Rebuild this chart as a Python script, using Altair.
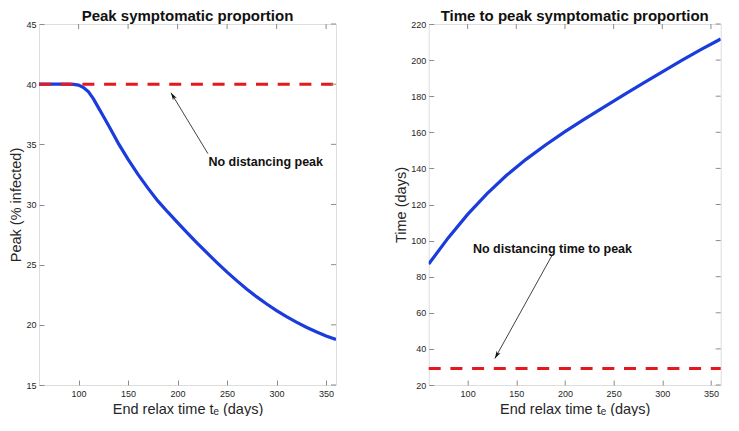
import math
import altair as alt
import pandas as pd

# ---------------- data ----------------
te_left = [60, 70, 80, 90, 95, 100, 105, 110, 115, 120, 125, 130, 135, 140, 150, 160,
           170, 180, 190, 200, 210, 220, 230, 240, 250, 260, 270, 280, 290, 300, 310,
           320, 330, 340, 350, 360]
peak_left = [40.0, 40.0, 40.0, 40.0, 39.98, 39.92, 39.72, 39.36, 38.78, 38.05, 37.33,
             36.6, 35.85, 35.1, 33.75, 32.5, 31.36, 30.3, 29.38, 28.5, 27.62, 26.77,
             25.95, 25.15, 24.38, 23.65, 22.96, 22.32, 21.73, 21.18, 20.68, 20.22, 19.8,
             19.42, 19.08, 18.78]

te_right = [60, 80, 100, 120, 140, 160, 180, 200, 220, 240, 260, 280, 300, 320, 340, 360]
time_right = [87.0, 101.5, 114.5, 126.0, 136.2, 145.0, 153.0, 160.4, 167.3, 174.0,
              180.6, 187.1, 193.5, 199.8, 205.9, 211.7]

ref_te = [60, 360]
ref_peak = [40, 40]
ref_time = [29.2, 29.2]

x_domain = [60, 360]
x_ticks = [100, 150, 200, 250, 300, 350]
peak_domain = [15, 45]
peak_ticks = [15, 20, 25, 30, 35, 40, 45]
time_domain = [20, 220]
time_ticks = [20, 40, 60, 80, 100, 120, 140, 160, 180, 200, 220]

left_title = "Peak symptomatic proportion"
right_title = "Time to peak symptomatic proportion"
left_ytitle = "Peak (% infected)"
right_ytitle = "Time (days)"
x_title = "End relax time tₑ (days)"

left_note = "No distancing peak"
left_note_pos = [289.0, 33.5]
left_arrow = [230.6, 34.23, 193.3, 39.29]   # tail te, tail val, head te, head val
right_note = "No distancing time to peak"
right_note_pos = [187.2, 95.2]
right_arrow = [186.9, 92.0, 128.0, 34.7]

# ---------------- style ----------------
FONT = "Liberation Sans"
BLUE = "#1a3cdc"
RED = "#e3191e"
GRAY = "#8c8c8c"
TXT = "#262626"
H = 361
W_LEFT = 297
W_RIGHT = 292
TICK = 5
ARROW_PATH = "M0,0 L-0.55,1.9 L0,1.4 L0.55,1.9 Z"


def panel(te, vals, ref_vals, ydom, yticks, ytitle, title, note, note_pos, arrow, width):
    xs = alt.Scale(domain=x_domain, nice=False, zero=False)
    ys = alt.Scale(domain=ydom, nice=False, zero=False)

    main_x = alt.Axis(orient="bottom", values=x_ticks, title=x_title, ticks=False, tickSize=0,
                      domain=False, grid=False, labelFontSize=9, labelPadding=4,
                      labelColor=TXT, titleColor=TXT, titleFontSize=14.5,
                      titleFontWeight="normal", titlePadding=4, labelFont=FONT, titleFont=FONT)
    main_y = alt.Axis(orient="left", values=yticks, title=ytitle, ticks=False, tickSize=0,
                      domain=False, grid=False, labelFontSize=9, labelPadding=3,
                      labelColor=TXT, titleColor=TXT, titleFontSize=14.5,
                      titleFontWeight="normal", titlePadding=2, labelFont=FONT, titleFont=FONT)

    # inward tick marks (bottom / left) drawn by axes pulled inside the box
    def tick_axis(orient, values):
        return alt.Axis(orient=orient, values=values, offset=-TICK, ticks=True, tickSize=TICK,
                        tickColor=GRAY, tickWidth=1, labels=False, domain=False, grid=False,
                        title=None)

    curve = pd.DataFrame({"te": te, "v": vals})
    refdf = pd.DataFrame({"te": ref_te, "v": ref_vals})
    arrdf = pd.DataFrame({"te": [arrow[0]], "v": [arrow[1]], "te2": [arrow[2]], "v2": [arrow[3]]})
    headdf = pd.DataFrame({"te": [arrow[2]], "v": [arrow[3]]})
    notedf = pd.DataFrame({"te": [note_pos[0]], "v": [note_pos[1]], "label": [note]})
    titledf = pd.DataFrame({"label": [title]})
    xtickdf = pd.DataFrame({"te": x_ticks})
    ytickdf = pd.DataFrame({"v": yticks})

    xpx = width / (x_domain[1] - x_domain[0])
    ypx = H / (ydom[1] - ydom[0])
    ang = math.degrees(math.atan2((arrow[2] - arrow[0]) * xpx, (arrow[3] - arrow[1]) * ypx)) % 360

    line = alt.Chart(curve).mark_line(color=BLUE, strokeWidth=3.2, clip=True).encode(
        x=alt.X("te:Q", scale=xs, axis=main_x),
        y=alt.Y("v:Q", scale=ys, axis=main_y),
    )
    ref = alt.Chart(refdf).mark_line(color=RED, strokeWidth=3, strokeDash=[12, 9.7]).encode(
        x=alt.X("te:Q", scale=xs, axis=tick_axis("bottom", x_ticks)),
        y=alt.Y("v:Q", scale=ys, axis=tick_axis("left", yticks)),
    )
    # inward tick marks on the top and right edges
    top_ticks = alt.Chart(xtickdf).mark_rule(color=GRAY, strokeWidth=1).encode(
        x=alt.X("te:Q", scale=xs, axis=None), y=alt.value(0), y2=alt.value(TICK),
    )
    right_ticks = alt.Chart(ytickdf).mark_rule(color=GRAY, strokeWidth=1).encode(
        y=alt.Y("v:Q", scale=ys, axis=None), x=alt.value(width - TICK), x2=alt.value(width),
    )
    arr = alt.Chart(arrdf).mark_rule(color="#111111", strokeWidth=0.8).encode(
        x=alt.X("te:Q", scale=xs, axis=None),
        y=alt.Y("v:Q", scale=ys, axis=None),
        x2="te2:Q", y2="v2:Q",
    )
    head = alt.Chart(headdf).mark_point(shape=ARROW_PATH, filled=True, color="#111111",
                                        opacity=1, size=64, angle=ang).encode(
        x=alt.X("te:Q", scale=xs, axis=None),
        y=alt.Y("v:Q", scale=ys, axis=None),
    )
    txt = alt.Chart(notedf).mark_text(font=FONT, fontSize=12.5, fontWeight="bold",
                                      color="#111111", baseline="middle", align="center").encode(
        x=alt.X("te:Q", scale=xs, axis=None),
        y=alt.Y("v:Q", scale=ys, axis=None),
        text="label:N",
    )
    ttl = alt.Chart(titledf).mark_text(font=FONT, fontSize=15, fontWeight="bold",
                                       color="#111111", baseline="alphabetic", align="center").encode(
        x=alt.value(width / 2), y=alt.value(-3), text="label:N",
    )
    return alt.layer(line, ref, top_ticks, right_ticks, arr, head, txt, ttl).resolve_axis(
        x="independent", y="independent"
    ).properties(width=width, height=H)


left = panel(te_left, peak_left, ref_peak, peak_domain, peak_ticks, left_ytitle,
             left_title, left_note, left_note_pos, left_arrow, W_LEFT)
right = panel(te_right, time_right, ref_time, time_domain, time_ticks, right_ytitle,
              right_title, right_note, right_note_pos, right_arrow, W_RIGHT)

chart = alt.hconcat(left, right, spacing=49.7).properties(
    padding={"left": 0, "top": 0, "right": 0, "bottom": 0}
).configure_view(stroke=GRAY, strokeWidth=1).configure(font=FONT, background="white")

chart.save("out.html", embed_options={"renderer": "svg", "actions": False})
